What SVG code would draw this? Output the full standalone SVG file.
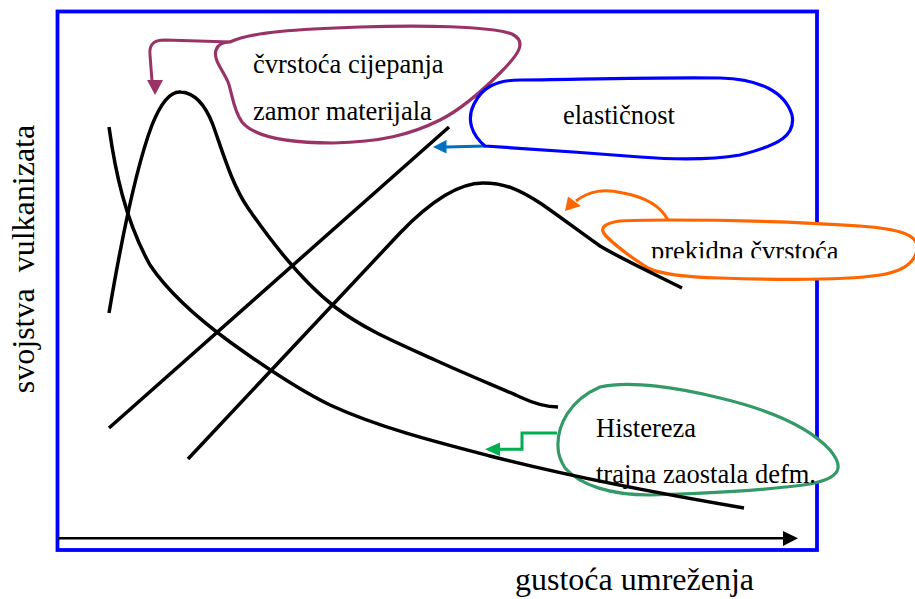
<svg xmlns="http://www.w3.org/2000/svg" width="915" height="599" viewBox="0 0 915 599">
<style>
.lbl{font-family:"Liberation Serif","Times New Roman",serif;font-size:26.5px;fill:#000}
.axl{font-family:"Liberation Serif","Times New Roman",serif;font-size:32px;fill:#000}
.crv{fill:none;stroke:#000;stroke-width:3.5;stroke-linecap:butt;stroke-linejoin:round}
.loop{fill:#fff;stroke-width:3.2;stroke-linejoin:round}
.arr{fill:none;stroke-width:3}
</style>
<defs>
<clipPath id="clipPrek"><rect x="600" y="200" width="315" height="58.3"/></clipPath>
</defs>
<rect id="frame" x="57.5" y="11.5" width="759.5" height="538.5" fill="none" stroke="#0000FF" stroke-width="3.8"/>
<g id="connectors">
<g id="axis-x">
<line x1="58" y1="538.3" x2="785" y2="538.3" stroke="#000" stroke-width="2.5"/>
<polygon points="783,531 798,538.3 783,546" fill="#000"/>
</g>
<path id="arrow-purple" class="arr" d="M231,42 L165,40 C153,40 149,45 150,55 L152,81" stroke="#993366"/>
<polygon points="147,80 163,80 155,95" fill="#993366"/>
<path id="arrow-blue" class="arr" d="M486,146 L446,147" stroke="#0070C0"/>
<polygon points="446.5,140 446.5,153.5 433,147" fill="#0070C0"/>
</g>
<g id="node-cvrstoca-cijepanja">
<path class="loop" stroke="#993366" d="M230,42 C250,32 300,29 360,27 C420,25 490,26 512,34 C528,42 518,55 500,73 C480,93 460,110 440,120 C410,135 380,142 333,143 C290,143 255,138 242,122 C233,110 232,92 228,82 C223,70 213,60 216,50 C218,44 224,42 230,42 Z"/>
<text class="lbl" x="253" y="73">čvrstoća cijepanja</text>
<text class="lbl" x="253" y="119.5">zamor materijala</text>
</g>
<g id="node-elasticnost">
<path class="loop" stroke="#0000FF" d="M485,146 C472,135 466,120 474,104 C482,88 495,80 520,80 C560,80 650,77 720,78 C760,79 785,92 792,115 C796,135 780,145 740,155 C710,160 680,160 640,157 C590,153 530,149 485,146 Z"/>
<text class="lbl" x="563" y="123.5">elastičnost</text>
</g>
<g id="node-prekidna">
<path class="loop" stroke="#FF6600" d="M668,220 C720,220 800,222 860,226 C900,229 920,235 917,250 C914,265 900,272 880,275 C840,281 780,280 720,278 C680,277 660,274 648,268 C632,258 615,245 606,236 C598,228 605,223 620,221 C635,220 650,220 668,220 Z"/>
<text class="lbl" x="651" y="259.5" clip-path="url(#clipPrek)">prekidna čvrstoća</text>
</g>
<g id="node-histereza">
<path class="loop" stroke="#339966" d="M558,447 C557,425 570,400 600,387 C630,380 680,388 720,398 C770,410 810,428 830,450 C845,468 840,478 810,484 C770,490 700,494 650,495 C610,495 580,485 565,468 C560,460 558,455 558,447 Z"/>
<text class="lbl" x="596" y="437">Histereza</text>
<text class="lbl" x="596" y="482.5">trajna zaostala defm.</text>
</g>
<g id="curves">
<path id="curve-cijepanje" class="crv" d="M109,313 C118,260 135,170 152,125 C162,100 172,91 181,92 C195,93 205,104 213,125 C222,150 232,185 248,208 C268,237 300,280 335,307 C365,330 400,344 435,360 C470,376 505,390 520,397 C535,404 545,407 558,407"/>
<path id="curve-histereza" class="crv" d="M109,127 C115,170 125,220 150,265 C170,295 200,320 230,342 C255,360 295,388 330,405 C380,428 440,443 490,456 C560,474 650,492 744,508"/>
<path id="line-elasticnost" class="crv" d="M109,428 L449,127"/>
<path id="curve-prekidna" class="crv" d="M188,459 L400,233 C425,207 455,183 483,183 C505,183 520,190 540,203 C555,213 580,232 600,246 C620,258 650,272 682,288"/>
</g>
<g id="connectors-2">
<path id="arrow-orange" class="arr" d="M668,220 C660,205 645,197 623,193 C605,189 590,190 576,201" stroke="#FF6600"/>
<polygon points="568,196.5 581,206 565,211" fill="#FF6600"/>
<polyline id="arrow-green" class="arr" points="557,433 522,433 522,449.3 499,449.3" stroke="#00B050"/>
<polygon points="500,442.5 500,456 485,449.3" fill="#00B050"/>
</g>
<text class="axl" x="515" y="590">gustoća umreženja</text>
<text class="axl" xml:space="preserve" transform="translate(33.5,259) rotate(-90)" text-anchor="middle">svojstva  vulkanizata</text>
</svg>
